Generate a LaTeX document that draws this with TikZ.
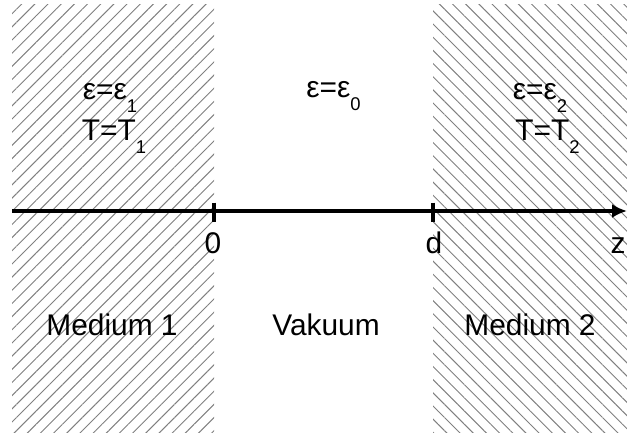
\documentclass[tikz,border=0pt]{standalone}
\usepackage{fontspec}
\setmainfont{Liberation Sans}
\usepackage{tikz}
\usetikzlibrary{arrows.meta,patterns.meta}
\newcommand{\lowidx}[1]{\raisebox{-0.85ex}{\fontsize{10.5}{12}\selectfont #1}}
\tikzset{
  hatchleft/.style={pattern={Lines[angle=45,distance=5.3pt,line width=0.55pt]},pattern color=gray},
  hatchright/.style={pattern={Lines[angle=-45,distance=5.3pt,line width=0.55pt]},pattern color=gray},
  label/.style={font=\fontsize{17}{20}\selectfont,anchor=base,inner sep=0pt}
}

\begin{document}
\begin{tikzpicture}
      \useasboundingbox (0,0) rectangle (12.54,8.68);
      % Define coordinates
      \coordinate (zstart) at (0.24,4.46);
      \coordinate (zend) at (12.54,4.46);
      \coordinate (zero) at (4.28,4.46);
      \coordinate (dist) at (8.66,4.46);
      % Hatched media
      \fill[hatchleft] (0.24,0.04) rectangle (4.28,8.58);
      \fill[hatchright] (8.66,0.04) rectangle (12.54,8.58);
      % Draw the z axis
      \draw[line width=2pt,-{Latex[length=0.3cm,width=0.28cm]}] (zstart) -- (zend);
      \draw[line width=2pt] (zero) ++(0,0.17) -- ++(0,-0.38);
      \draw[line width=2pt] (dist) ++(0,0.17) -- ++(0,-0.38);
      \node[label] (lzero) at (4.26,3.62) {0};
      \node[label] (ldist) at (8.68,3.62) {d};
      \node[label] (lz) at (12.36,3.62) {z};
      % Material parameters
      \node[label] (eps1) at (2.20,6.70) {ε=ε\lowidx{1}};
      \node[label] (temp1) at (2.28,5.88) {T=T\lowidx{1}};
      \node[label] (eps0) at (6.67,6.74) {ε=ε\lowidx{0}};
      \node[label] (eps2) at (10.80,6.70) {ε=ε\lowidx{2}};
      \node[label] (temp2) at (10.95,5.88) {T=T\lowidx{2}};
      % Region names
      \node[label] (med1) at (2.24,1.98) {Medium 1};
      \node[label] (vac) at (6.52,1.98) {Vakuum};
      \node[label] (med2) at (10.60,1.98) {Medium 2};
\end{tikzpicture}
\end{document}
